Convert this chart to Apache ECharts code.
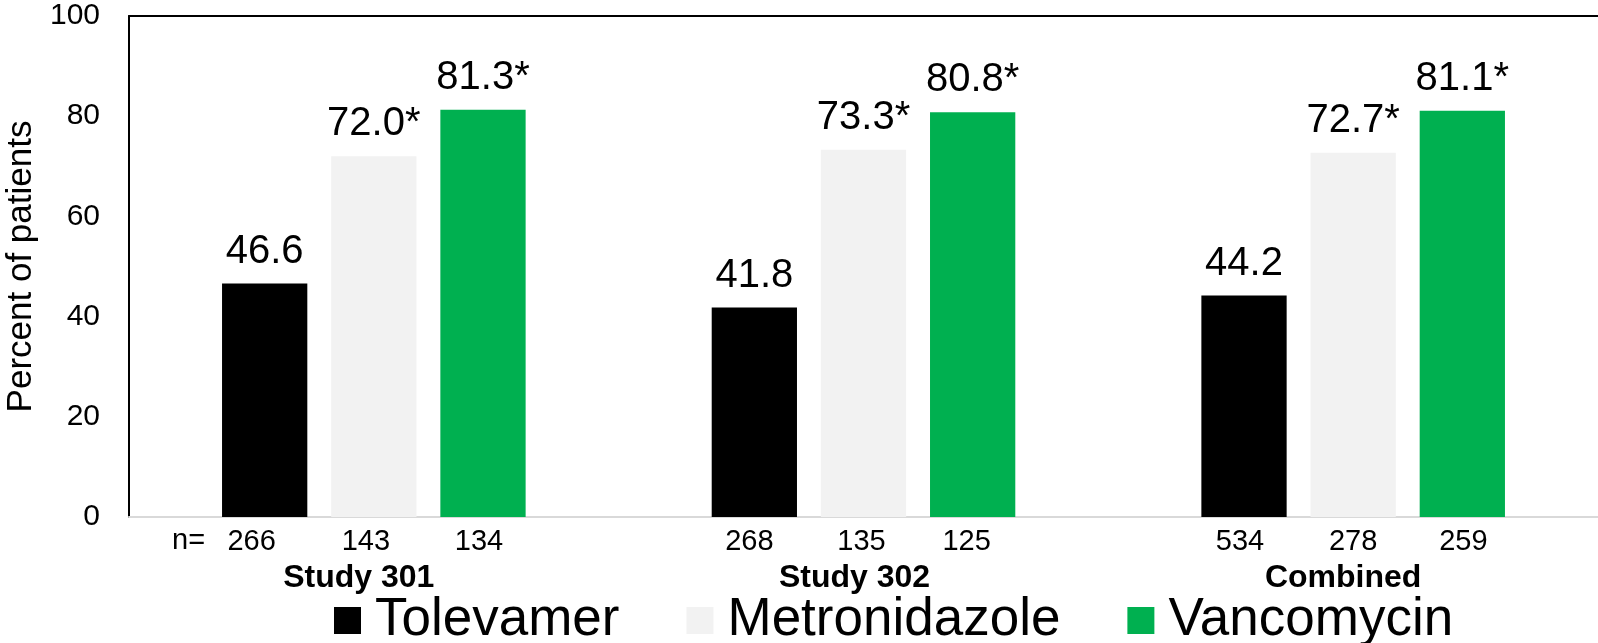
<!DOCTYPE html>
<html>
<head>
<meta charset="utf-8">
<script src="https://cdn.jsdelivr.net/npm/echarts@6/dist/echarts.min.js"></script>
<style>
  html, body { margin: 0; padding: 0; background: #fff; }
  #chart { width: 1598px; height: 643px; }
</style>
</head>
<body>
<div id="chart"></div>
<script>
// Study groups along the x axis
const studies = ['Study 301', 'Study 302', 'Combined'];
// Treatment arms
const arms = ['Tolevamer', 'Metronidazole', 'Vancomycin'];
// Percent of patients per arm, one value per study group
const tolevamerPct = [46.6, 41.8, 44.2];
const metronidazolePct = [72.0, 73.3, 72.7];
const vancomycinPct = [81.3, 80.8, 81.1];
// Patients per arm (n)
const tolevamerN = [266, 268, 534];
const metronidazoleN = [143, 135, 278];
const vancomycinN = [134, 125, 259];
// Arms marked as significantly different
const significant = [false, true, true];
// Y axis ticks
const yMin = 0, yMax = 100, yStep = 20;

const FONT = "'Liberation Sans', Arial, Helvetica, sans-serif";
const armColors = ['#000000', '#f2f2f2', '#00b050'];
const pctByArm = [tolevamerPct, metronidazolePct, vancomycinPct];
const nByArm = [tolevamerN, metronidazoleN, vancomycinN];

// Layout nudges (px): n counts per [group][arm], and group titles per group
const countNudge = [[-13, -8, -4], [-5, -2, -6], [-4, 0, 1]];
const titleNudge = [-15, -9, -10];

const BAR_GAP = '28%';
const CAT_GAP = '38%';

const valueSeries = arms.map((arm, i) => ({
  name: arm,
  type: 'bar',
  xAxisIndex: 0,
  yAxisIndex: 0,
  data: pctByArm[i],
  barGap: BAR_GAP,
  barCategoryGap: CAT_GAP,
  itemStyle: { color: armColors[i] },
  label: {
    show: true,
    position: 'top',
    distance: 12,
    color: '#000',
    fontFamily: FONT,
    fontSize: 40,
    formatter: p => p.value.toFixed(1) + (significant[i] ? '*' : '')
  }
}));

// Zero-height bars on an overlay axis carry the n counts under each bar
const countSeries = arms.map((arm, i) => ({
  name: 'n ' + arm,
  type: 'bar',
  xAxisIndex: 1,
  yAxisIndex: 0,
  silent: true,
  data: nByArm[i].map((n, k) => ({
    value: 0,
    label: { offset: [countNudge[k][i], 0] }
  })),
  barGap: BAR_GAP,
  barCategoryGap: CAT_GAP,
  itemStyle: { color: 'transparent' },
  label: {
    show: true,
    position: 'bottom',
    distance: 10,
    color: '#000',
    fontFamily: FONT,
    fontSize: 29,
    formatter: p => String(nByArm[i][p.dataIndex])
  }
}));

const chart = echarts.init(document.getElementById('chart'), null, { renderer: 'canvas' });
chart.setOption({
  animation: false,
  backgroundColor: '#ffffff',
  textStyle: { fontFamily: FONT },
  grid: { left: 129, right: 0, top: 16, bottom: 126, containLabel: false, outerBoundsMode: 'none' },
  legend: {
    data: arms,
    left: 334,
    top: 594,
    padding: 0,
    itemWidth: 27,
    itemHeight: 27,
    itemGap: 67,
    icon: 'rect',
    selectedMode: false,
    textStyle: { color: '#000', fontFamily: FONT, fontSize: 53, padding: [0, 0, 0, 9] }
  },
  xAxis: [
    {
      type: 'category',
      data: studies.map((s, k) => ({
        value: s,
        textStyle: { padding: [0, -2 * titleNudge[k], 0, 0] }
      })),
      position: 'bottom',
      axisLine: { show: true, lineStyle: { color: '#d9d9d9', width: 2 } },
      axisTick: { show: false },
      axisLabel: {
        show: true,
        margin: 45,
        color: '#000',
        fontFamily: FONT,
        fontWeight: 'bold',
        fontSize: 32
      },
      z: 1
    },
    {
      type: 'category',
      data: studies,
      position: 'top',
      axisLine: { show: true, lineStyle: { color: '#000', width: 2 } },
      axisTick: { show: false },
      axisLabel: { show: false }
    }
  ],
  yAxis: {
    type: 'value',
    min: yMin,
    max: yMax,
    interval: yStep,
    name: 'Percent of patients',
    nameLocation: 'middle',
    nameGap: 86,
    nameTextStyle: { color: '#000', fontFamily: FONT, fontSize: 35 },
    axisLine: { show: true, lineStyle: { color: '#000', width: 2 } },
    axisTick: { show: false },
    splitLine: { show: false },
    axisLabel: { color: '#000', fontFamily: FONT, fontSize: 30, margin: 29 }
  },
  graphic: [
    {
      type: 'text',
      left: 172,
      top: 526,
      style: { text: 'n=', fill: '#000', font: '29px ' + FONT }
    }
  ],
  series: valueSeries.concat(countSeries)
});
</script>
</body>
</html>
